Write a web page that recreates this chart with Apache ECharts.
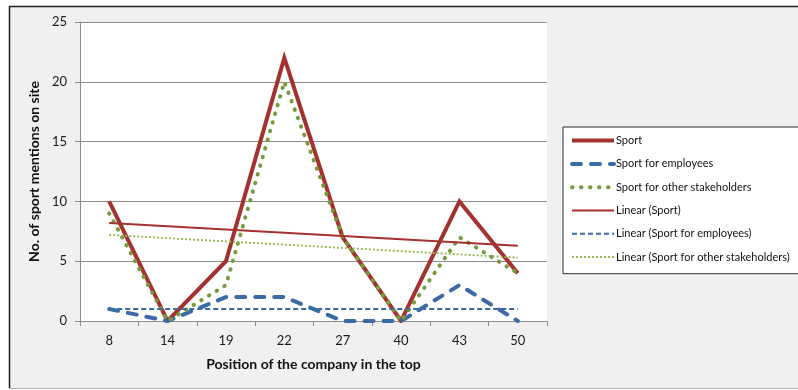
<!DOCTYPE html>
<html>
<head>
<meta charset="utf-8">
<script src="https://cdn.jsdelivr.net/npm/echarts@6/dist/echarts.min.js"></script>
<style>
  html, body { margin: 0; padding: 0; background: #ffffff; }
  #chart { width: 798px; height: 390px; }
</style>
</head>
<body>
<div id="chart"></div>
<script>
// Positions of the companies in the ranking
const positions = ['8', '14', '19', '22', '27', '40', '43', '50'];

// Sport mentions on each company site
const sport = [10, 0, 5, 22, 7, 0, 10, 4];
const sportEmployees = [1, 0, 2, 2, 0, 0, 3, 0];
const sportStakeholders = [9, 0, 3, 20, 7, 0, 7, 4];

// Linear trend lines: value at the first and the last position
const trendSport = [8.2, 6.3];
const trendEmployees = [1, 1];
const trendStakeholders = [7.2, 5.3];

const yTicks = { min: 0, max: 25, step: 5 };

const FONT = 'Lato, "Liberation Sans", sans-serif';

// A trend line spans the whole axis: start and end values, nothing in between
function trendData(ends) {
  return positions.map((_, i) =>
    i === 0 ? ends[0] : (i === positions.length - 1 ? ends[1] : null));
}

const RED = '#A3322F';
const BLUE = '#3A6BA6';
const GREEN = '#779B3A';
const LIGHT_GREEN = '#9BBB59';

// Line looks shared by the series and their legend entries
const styles = {
  sport: { color: RED, width: 4, join: 'miter' },
  employees: { color: BLUE, width: 4, type: [9, 10], cap: 'round', join: 'round' },
  stakeholders: { color: GREEN, width: 4, type: [0.5, 8.5], cap: 'round', join: 'round' },
  trendSport: { color: RED, width: 2 },
  trendEmployees: { color: BLUE, width: 2, type: [5, 3] },
  trendStakeholders: { color: LIGHT_GREEN, width: 2, type: [2, 2] }
};

const chart = echarts.init(document.getElementById('chart'), null, { renderer: 'canvas' });

chart.setOption({
  animation: false,
  backgroundColor: '#ffffff',
  textStyle: { fontFamily: FONT },
  graphic: [
    // chart area frame
    { type: 'rect', z: -10, silent: true,
      shape: { x: 9, y: 6, width: 800, height: 382 },
      style: { fill: '#f0f0f0' } },
    { type: 'line', z: -9, silent: true,
      shape: { x1: 9, y1: 6.5, x2: 800, y2: 6.5 },
      style: { stroke: '#1e1e1e', lineWidth: 1.5 } },
    { type: 'line', z: -9, silent: true,
      shape: { x1: 9.5, y1: 6, x2: 9.5, y2: 388 },
      style: { stroke: '#1e1e1e', lineWidth: 1.5 } },
    { type: 'line', z: -9, silent: true,
      shape: { x1: 9, y1: 388.5, x2: 800, y2: 388.5 },
      style: { stroke: '#b4b4b4', lineWidth: 1 } }
  ],
  grid: {
    left: 80, top: 22, width: 467, height: 299,
    show: true, backgroundColor: '#ffffff', borderWidth: 0
  },
  legend: {
    orient: 'vertical',
    left: 563, top: 127,
    padding: [8, 14, 11, 7],
    itemWidth: 42, itemHeight: 14, itemGap: 12.1,
    borderColor: '#2a2a2a', borderWidth: 1,
    backgroundColor: '#ffffff',
    itemStyle: { opacity: 0 },
    textStyle: { fontFamily: FONT, fontSize: 11, color: '#111111', padding: [0, 0, 0, -3] },
    data: [
      { name: 'Sport', lineStyle: styles.sport },
      { name: 'Sport for employees', lineStyle: styles.employees },
      { name: 'Sport for other stakeholders', lineStyle: styles.stakeholders },
      { name: 'Linear (Sport)', lineStyle: styles.trendSport },
      { name: 'Linear (Sport for employees)', lineStyle: styles.trendEmployees },
      { name: 'Linear (Sport for other stakeholders)', lineStyle: styles.trendStakeholders }
    ]
  },
  xAxis: {
    type: 'category',
    data: positions,
    boundaryGap: true,
    name: 'Position of the company in the top',
    nameLocation: 'middle',
    nameGap: 36,
    nameTextStyle: { fontFamily: FONT, fontSize: 14, fontWeight: 'bold', color: '#111111' },
    axisLine: { lineStyle: { color: '#8c8c8c', width: 1 } },
    axisTick: { show: true, length: 5, lineStyle: { color: '#8c8c8c' } },
    axisLabel: { fontFamily: FONT, fontSize: 13, color: '#1a1a1a', margin: 13 },
    splitLine: { show: false }
  },
  yAxis: {
    type: 'value',
    min: yTicks.min, max: yTicks.max, interval: yTicks.step,
    name: 'No. of sport mentions on site',
    nameLocation: 'middle',
    nameGap: 25,
    nameRotate: 90,
    nameTextStyle: { fontFamily: FONT, fontSize: 14, fontWeight: 'bold', color: '#111111' },
    axisLine: { show: true, lineStyle: { color: '#8c8c8c', width: 1 } },
    axisTick: { show: true, length: 5, lineStyle: { color: '#8c8c8c' } },
    axisLabel: { fontFamily: FONT, fontSize: 13, color: '#1a1a1a', margin: 13 },
    splitLine: { show: true, lineStyle: { color: '#8c8c8c', width: 1 } }
  },
  series: [
    {
      name: 'Sport', type: 'line', data: sport,
      symbol: 'none', z: 3, color: RED,
      lineStyle: styles.sport
    },
    {
      name: 'Sport for employees', type: 'line', data: sportEmployees,
      symbol: 'none', z: 3, color: BLUE,
      lineStyle: styles.employees
    },
    {
      name: 'Sport for other stakeholders', type: 'line', data: sportStakeholders,
      symbol: 'none', z: 3, color: GREEN,
      lineStyle: styles.stakeholders
    },
    {
      name: 'Linear (Sport)', type: 'line', data: trendData(trendSport),
      connectNulls: true, symbol: 'none', z: 4, color: RED,
      lineStyle: styles.trendSport
    },
    {
      name: 'Linear (Sport for employees)', type: 'line', data: trendData(trendEmployees),
      connectNulls: true, symbol: 'none', z: 4, color: BLUE,
      lineStyle: styles.trendEmployees
    },
    {
      name: 'Linear (Sport for other stakeholders)', type: 'line', data: trendData(trendStakeholders),
      connectNulls: true, symbol: 'none', z: 4, color: LIGHT_GREEN,
      lineStyle: styles.trendStakeholders
    }
  ]
});
</script>
</body>
</html>
